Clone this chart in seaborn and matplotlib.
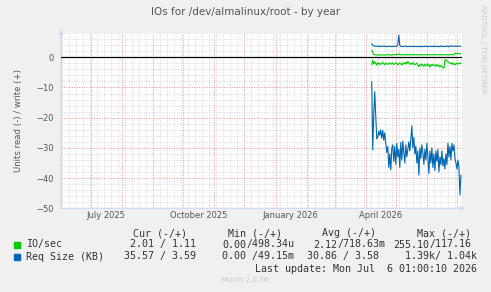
import numpy as np
import pandas as pd
import seaborn as sns
import matplotlib.pyplot as plt
import matplotlib.dates as mdates
from matplotlib.patches import Rectangle
from matplotlib.ticker import MultipleLocator
from matplotlib.transforms import blended_transform_factory

# daily values, starting 2026-04-07 (read values are drawn below zero)
start_day = '2026-04-07'

io_read = [
    -2.5, -1.0, -2.2, -1.5, -2.0, -2.6, -1.8, -2.3, -1.9, -2.4,
    -2.0, -1.7, -2.2, -2.5, -1.9, -2.1, -2.4, -2.0, -1.8, -2.3,
    -2.1, -1.9, -2.4, -2.2, -1.8, -2.0, -2.5, -2.1, -1.9, -2.2,
    -2.6, -2.0, -1.8, -2.3, -1.6, -2.2, -1.4, -1.9, -2.3, -2.0,
    -2.4, -1.8, -2.1, -2.5, -2.2, -1.9, -2.6, -3.1, -2.4, -2.8,
    -2.2, -2.6, -3.0, -2.3, -2.5, -2.9, -2.2, -2.6, -3.2, -2.4,
    -2.7, -2.3, -2.8, -2.5, -3.0, -2.4, -2.9, -2.6, -3.3, -2.7,
    -3.0, -3.4, -3.6, -1.0, -0.8, -1.2, -1.5, -1.7, -1.9, -2.2,
    -1.8, -2.4, -2.0, -2.5, -2.2, -2.0, -2.3, -1.9, -2.1, -2.0,
]
io_write = [
    2.4, 1.6, 0.9, 0.8, 0.9, 0.8, 0.7, 0.8, 0.8, 0.7,
    0.8, 0.7, 0.8, 0.8, 0.7, 0.8, 0.8, 0.9, 0.8, 0.7,
    0.8, 0.8, 0.9, 0.8, 0.8, 1.0, 0.9, 1.1, 0.9, 0.8,
    0.8, 0.9, 0.8, 0.8, 0.9, 0.8, 0.8, 0.9, 0.8, 0.8,
    0.9, 0.8, 0.8, 0.9, 0.8, 0.8, 0.8, 0.9, 0.8, 0.8,
    0.9, 0.8, 0.8, 0.8, 0.9, 0.8, 0.8, 0.9, 0.8, 0.8,
    0.9, 0.8, 0.8, 0.8, 0.9, 0.8, 0.9, 0.8, 0.8, 0.9,
    0.8, 0.8, 0.9, 0.8, 0.8, 0.9, 0.8, 0.8, 0.9, 0.8,
    0.9, 0.8, 0.8, 1.3, 1.3, 1.2, 1.3, 1.2, 1.2, 1.1,
]
req_read = [
    -8.1, -30.7, -19.0, -11.4, -19.5, -27.0, -26.5, -24.5, -25.8, -24.0,
    -26.8, -24.2, -27.5, -25.0, -28.5, -31.5, -29.5, -36.5, -32.0, -37.3,
    -30.0, -29.0, -34.5, -29.5, -35.5, -28.5, -33.0, -30.5, -36.5, -28.2,
    -34.0, -27.8, -31.5, -35.0, -29.0, -33.0, -30.5, -28.0, -31.0, -27.0,
    -22.7, -30.0, -26.5, -32.0, -29.5, -35.0, -31.0, -39.0, -30.0, -33.5,
    -29.0, -31.5, -35.5, -30.5, -34.0, -28.5, -33.0, -38.5, -31.0, -35.0,
    -30.0, -36.5, -32.0, -37.5, -31.0, -34.5, -30.5, -38.0, -33.0, -35.5,
    -31.0, -36.0, -33.5, -37.0, -32.0, -35.5, -28.5, -33.0, -29.5, -34.0,
    -28.5, -31.0, -29.0, -33.5, -35.0, -37.0, -34.0, -36.5, -45.6, -39.0,
]
req_write = [
    4.5, 3.9, 3.7, 3.8, 3.6, 3.7, 3.6, 3.7, 3.5, 3.6,
    3.7, 3.6, 3.6, 3.7, 3.6, 3.5, 3.6, 3.7, 3.6, 3.6,
    3.5, 3.6, 3.7, 3.6, 3.6, 3.7, 4.0, 7.3, 3.9, 3.6,
    3.6, 3.5, 3.6, 3.6, 3.7, 3.6, 3.5, 3.6, 3.6, 3.5,
    3.6, 3.6, 3.5, 3.6, 3.6, 3.5, 3.5, 3.6, 3.6, 3.5,
    3.6, 3.6, 3.5, 3.6, 3.7, 3.6, 3.5, 3.6, 3.6, 3.6,
    3.5, 3.6, 3.7, 3.6, 3.5, 3.6, 3.6, 3.5, 3.6, 3.8,
    3.6, 3.5, 3.7, 3.6, 3.6, 3.7, 3.6, 3.5, 3.6, 3.8,
    3.7, 3.6, 3.7, 3.6, 3.7, 3.6, 3.7, 3.7, 3.6, 3.6,
]

series_names = ['IO/sec', 'Req Size (KB)']
series_colors = ['#00CC00', '#0066B3']
x_labels = ['July 2025', 'October 2025', 'January 2026', 'April 2026']
x_label_days = ['2025-07-16', '2025-10-16', '2026-01-16', '2026-04-16']

legend_head = ['Cur (-/+)', 'Min (-/+)', 'Avg (-/+)', 'Max (-/+)']
# IO/sec: (read part, write part) drawn tight like rrdtool does
io_stats = [('2.01 / 1.11', None), ('0.00', '/498.34u'),
            ('2.12', '/718.63m'), ('255.10', '/117.16')]
req_stats = ['35.57 / 3.59', '0.00 /49.15m', '30.86 / 3.58', '1.39k/ 1.04k']

# build the long table for seaborn
days = pd.date_range(start_day, periods=len(req_read), freq='D')
frames = []
for name, vals, direction in [(series_names[0], io_read, 'read'),
                              (series_names[0], io_write, 'write'),
                              (series_names[1], req_read, 'read'),
                              (series_names[1], req_write, 'write')]:
    frames.append(pd.DataFrame({'date': days, 'value': vals,
                                'series': name, 'dir': direction}))
df = pd.concat(frames, ignore_index=True)

sns.set_style('white')
plt.rcParams['font.family'] = ['DejaVu Sans']

W, H = 491, 292
fig = plt.figure(figsize=(W / 100, H / 100), dpi=100, facecolor='#F0F0F0')
ax = fig.add_axes([61 / W, 1 - 208.3 / H, 401 / W, 175.2 / H])
ax.set_facecolor('white')

sns.lineplot(data=df, x='date', y='value', hue='series', units='dir',
             estimator=None, palette=dict(zip(series_names, series_colors)),
             linewidth=0.8, legend=False, ax=ax, zorder=3)
ax.axhline(0, color='black', lw=0.9, zorder=4)

ax.set_xlim(pd.Timestamp('2025-06-01'), pd.Timestamp('2026-07-06 01:00'))
ax.set_ylim(-50, 8)

ax.yaxis.set_major_locator(MultipleLocator(10))
ax.yaxis.set_minor_locator(MultipleLocator(2))
ax.xaxis.set_major_locator(mdates.MonthLocator())
ax.xaxis.set_minor_locator(mdates.WeekdayLocator(byweekday=mdates.MO))
ax.grid(which='minor', color='#dadada', lw=0.6, ls=(0, (1.5, 1.5)))
ax.grid(which='major', color='#e86a6a', alpha=0.7, lw=0.6, ls=(0, (1.5, 1.5)))
ax.set_axisbelow(True)

ax.set_xticklabels([])
ax.tick_params(which='both', length=0)
ax.tick_params(axis='y', labelsize=6, labelcolor='#555555', pad=5)
ax.set_xlabel('')
ax.set_ylabel('Units read (-) / write (+)', fontsize=6.1, color='#555555', labelpad=10)
for s in ax.spines.values():
    s.set_visible(False)

tr = blended_transform_factory(ax.transData, ax.transAxes)
for lab, day in zip(x_labels, x_label_days):
    ax.text(pd.Timestamp(day), -0.04, lab, transform=tr, ha='center', va='center',
            fontsize=6, color='#555555')

axis_col = '#CFD6F8'
ax.annotate('', xy=(0, 1.035), xytext=(0, 0), xycoords='axes fraction',
            arrowprops=dict(arrowstyle='-|>', color=axis_col, lw=0.8, mutation_scale=6),
            annotation_clip=False)
ax.annotate('', xy=(1.014, 0), xytext=(-0.007, 0), xycoords='axes fraction',
            arrowprops=dict(arrowstyle='-|>', color=axis_col, lw=0.8, mutation_scale=6),
            annotation_clip=False)

def ftext(x, y, s, **kw):
    fig.text(x / W, 1 - y / H, s, **kw)

ftext(245.5, 12, 'IOs for /dev/almalinux/root - by year', ha='center', va='center',
      fontsize=7.5, color='#555555')
ftext(483, 5, 'RRDTOOL / TOBI OETIKER', rotation=270, ha='center', va='top',
      fontsize=5, color='#cccccc')

mono = dict(family='DejaVu Sans Mono', fontsize=7.2, color='#333333', va='center')
head_x = [133, 228, 322, 417]
for x, s in zip(head_x, legend_head):
    ftext(x, 233, s, ha='left', **mono)

rows_y = [244.5, 256.5]
for y, name, col in zip(rows_y, series_names, series_colors):
    fig.patches.append(Rectangle((14 / W, 1 - (y + 3) / H), 6 / W, 6 / H,
                                 transform=fig.transFigure, color=col))
    ftext(26, y, name, ha='left', **mono)

# IO/sec row: left edge of first part, right edge of second part
io_left = [130, 222, 313, 393]
io_right = [196, 294.5, 385.5, 471]
for xl, xr, (a, b) in zip(io_left, io_right, io_stats):
    if b is None:
        ftext(xr, rows_y[0], a, ha='right', **mono)
    else:
        ftext(xl, rows_y[0], a, ha='left', **mono)
        ftext(xr, rows_y[0], b, ha='right', **mono)

req_right = [196, 293.5, 379, 477]
for x, s in zip(req_right, req_stats):
    ftext(x, rows_y[1], s, ha='right', **mono)

ftext(477, 269, 'Last update: Mon Jul  6 01:00:10 2026', ha='right', **mono)
ftext(245, 280, 'Munin 2.0.76', ha='center', va='center', fontsize=5, color='#c8c8c8')

fig.savefig('out.png', dpi=100, facecolor=fig.get_facecolor())
